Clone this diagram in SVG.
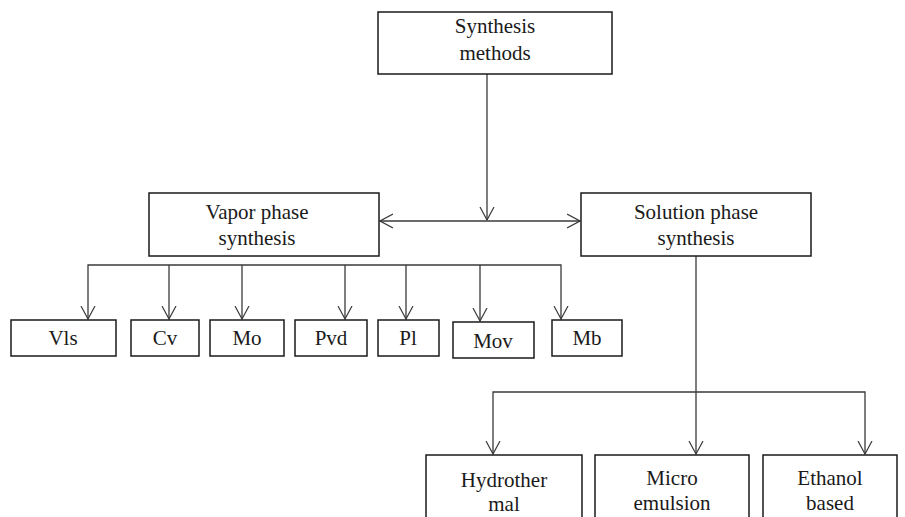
<svg xmlns="http://www.w3.org/2000/svg" width="905" height="517" viewBox="0 0 905 517">
<defs>
<style>
.box{fill:#fff;stroke:#1a1a1a;stroke-width:1.5}
.ln{fill:none;stroke:#3a3a3a;stroke-width:1.3}
.t{font-family:"Liberation Serif","Times New Roman",serif;font-size:21px;fill:#1a1a1a;text-anchor:middle}
</style>
<marker id="ah" viewBox="0 0 14 16" refX="13" refY="8" markerWidth="14" markerHeight="16" markerUnits="userSpaceOnUse" orient="auto-start-reverse">
<path d="M0,1 L13,8 L0,15" fill="none" stroke="#3a3a3a" stroke-width="1.2"/>
</marker>
</defs>
<rect width="905" height="517" fill="#fff"/>
<g id="connectors">
<line class="ln" x1="487" y1="74" x2="487" y2="220" marker-end="url(#ah)"/>
<line class="ln" x1="380" y1="221" x2="580" y2="221" marker-start="url(#ah)" marker-end="url(#ah)"/>
<polyline class="ln" points="88,319 88,265 561,265 561,319" marker-start="url(#ah)" marker-end="url(#ah)"/>
<line class="ln" x1="169" y1="265" x2="169" y2="319" marker-end="url(#ah)"/>
<line class="ln" x1="242" y1="265" x2="242" y2="319" marker-end="url(#ah)"/>
<line class="ln" x1="345" y1="265" x2="345" y2="319" marker-end="url(#ah)"/>
<line class="ln" x1="406" y1="265" x2="406" y2="319" marker-end="url(#ah)"/>
<line class="ln" x1="480" y1="265" x2="480" y2="321" marker-end="url(#ah)"/>
<line class="ln" x1="696" y1="256" x2="696" y2="454" marker-end="url(#ah)"/>
<polyline class="ln" points="493,454 493,392 865,392 865,454" marker-start="url(#ah)" marker-end="url(#ah)"/>
</g>
<g id="synthesis-methods">
<rect class="box" x="378" y="12" width="234" height="62"/>
<text class="t" x="495" y="33">Synthesis</text>
<text class="t" x="495" y="60">methods</text>
</g>
<g id="vapor-phase">
<rect class="box" x="149" y="193" width="230" height="63"/>
<text class="t" x="257" y="219">Vapor phase</text>
<text class="t" x="257" y="245">synthesis</text>
</g>
<g id="solution-phase">
<rect class="box" x="581" y="193" width="230" height="63"/>
<text class="t" x="696" y="219">Solution phase</text>
<text class="t" x="696" y="245">synthesis</text>
</g>
<g id="vls"><rect class="box" x="11" y="320" width="105" height="36"/><text class="t" x="63" y="345">Vls</text></g>
<g id="cv"><rect class="box" x="131" y="320" width="68" height="36"/><text class="t" x="165" y="345">Cv</text></g>
<g id="mo"><rect class="box" x="210" y="320" width="74" height="36"/><text class="t" x="247" y="345">Mo</text></g>
<g id="pvd"><rect class="box" x="295" y="320" width="72" height="36"/><text class="t" x="331" y="345">Pvd</text></g>
<g id="pl"><rect class="box" x="378" y="320" width="61" height="36"/><text class="t" x="408" y="345">Pl</text></g>
<g id="mov"><rect class="box" x="453" y="322" width="81" height="36"/><text class="t" x="493" y="348">Mov</text></g>
<g id="mb"><rect class="box" x="552" y="320" width="70" height="36"/><text class="t" x="587" y="345">Mb</text></g>
<g id="hydrothermal"><rect class="box" x="426" y="455" width="156" height="70"/><text class="t" x="504" y="487">Hydrother</text><text class="t" x="504" y="511">mal</text></g>
<g id="microemulsion"><rect class="box" x="595" y="455" width="154" height="70"/><text class="t" x="672" y="485">Micro</text><text class="t" x="672" y="510">emulsion</text></g>
<g id="ethanol"><rect class="box" x="763" y="455" width="134" height="70"/><text class="t" x="830" y="485">Ethanol</text><text class="t" x="830" y="510">based</text></g>
</svg>
